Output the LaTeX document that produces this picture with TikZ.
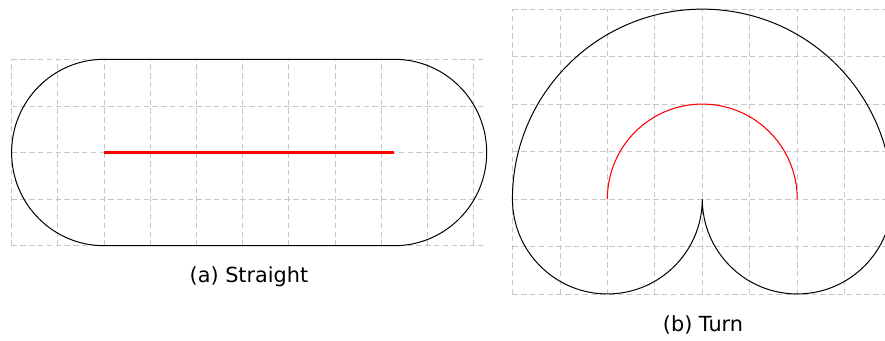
\documentclass[tikz,border=0pt]{standalone}
\usepackage{fontspec}
\setmainfont{DejaVu Sans}
\tikzset{
  gridlines/.style={draw=black!22, line width=0.6pt, dash pattern=on 4pt off 2.6pt},
  outline/.style={draw=black, line width=0.75pt},
  pathred/.style={draw=red, line width=1.6pt},
  pathredthin/.style={draw=red, line width=0.8pt},
  caption/.style={font=\fontsize{15.6pt}{18pt}\selectfont, anchor=base, inner sep=0pt}
}
\begin{document}
\begin{tikzpicture}[x=0.75pt, y=-0.75pt]
\useasboundingbox (0,0) rectangle (885,340);
% (a) Straight
\begin{scope}[shift={(104,152.5)}, x=34.65pt, y=34.95pt]
  \draw[gridlines, step=1] (-2,-2) grid (8.2832,2);
  \draw[outline] (0,2) -- (6.2832,2) arc (90:-90:2) -- (0,-2) arc (270:90:2) -- cycle;
  \draw[pathred] (0,0) -- (6.2832,0);
\end{scope}
\node[caption] (capa) at (249,282) {(a) Straight};
% (b) Turn
\begin{scope}[shift={(702.3,199)}, x=35.6pt, y=35.6pt]
  \draw[gridlines, step=1] (-4,-2) grid (4,4);
  \draw[outline] (-4,0) arc (180:0:4) arc (0:-180:2) arc (0:-180:2);
  \draw[pathredthin] (-2,0) arc (180:0:2);
\end{scope}
\node[caption] (capb) at (703,331) {(b) Turn};
\end{tikzpicture}
\end{document}
